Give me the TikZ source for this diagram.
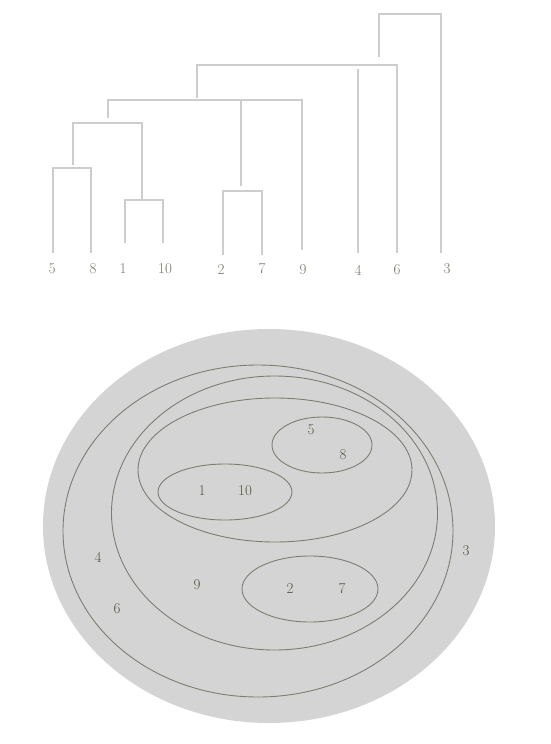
\documentclass[tikz,border=0pt]{standalone}
\usepackage{tikz}
\definecolor{dgline}{RGB}{205,205,205}
\definecolor{dglab}{RGB}{120,120,105}
\definecolor{elab}{RGB}{85,85,65}
\definecolor{efill}{RGB}{212,212,212}
\definecolor{eline}{RGB}{125,125,115}
\begin{document}
\begin{tikzpicture}[x=1pt,y=-1pt,
  dl/.style={draw=dgline,line width=1.8pt},
  dlab/.style={text=dglab,font=\fontsize{15}{17}\selectfont,inner sep=0pt},
  elabel/.style={text=elab,font=\fontsize{15}{17}\selectfont,inner sep=0pt},
  eset/.style={draw=eline,line width=0.9pt}]
\useasboundingbox (0,0) rectangle (551,744);
\fill[white] (0,0) rectangle (551,744);
% dendrogram leaf labels
\node[dlab] (d5) at (52,269) {5};
\node[dlab] (d8) at (93,269) {8};
\node[dlab] (d1) at (123,269) {1};
\node[dlab] (d10) at (165,269) {10};
\node[dlab] (d2) at (221,270) {2};
\node[dlab] (d7) at (262,269) {7};
\node[dlab] (d9) at (303,270) {9};
\node[dlab] (d4) at (358,270) {4};
\node[dlab] (d6) at (397,270) {6};
\node[dlab] (d3) at (447,269) {3};
% dendrogram branches
\draw[dl] (52.7,253) |- (91,168) -- (91,253);
\draw[dl] (125,243) |- (163,200) -- (163,243);
\draw[dl] (73,165) |- (142,123) -- (142,200);
\draw[dl] (223,255) |- (262,191) -- (262,255);
\draw[dl] (108,118) |- (302,100) -- (302,250);
\draw[dl] (241,186) -- (241,100);
\draw[dl] (197,98) |- (397,65) -- (397,253);
\draw[dl] (358,69) -- (358,253);
\draw[dl] (379,57) |- (441,14) -- (441,253);
% set diagram
\fill[efill] (269,526) ellipse [x radius=226, y radius=197];
\draw[eset] (258,531) ellipse [x radius=195, y radius=166];
\draw[eset] (274.5,513) ellipse [x radius=163, y radius=137];
\draw[eset] (275,470) ellipse [x radius=137, y radius=72];
\draw[eset] (322,445) ellipse [x radius=50, y radius=28];
\draw[eset] (225,492) ellipse [x radius=67, y radius=28];
\draw[eset] (310,589) ellipse [x radius=68, y radius=33];
\node[elabel] (s5) at (311,430) {5};
\node[elabel] (s8) at (343,455) {8};
\node[elabel] (s1) at (202,491) {1};
\node[elabel] (s10) at (245,491) {10};
\node[elabel] (s4) at (98,557) {4};
\node[elabel] (s9) at (197,585) {9};
\node[elabel] (s2) at (290,589) {2};
\node[elabel] (s7) at (342,589) {7};
\node[elabel] (s6) at (117,609) {6};
\node[elabel] (s3) at (466,551) {3};
\end{tikzpicture}
\end{document}
